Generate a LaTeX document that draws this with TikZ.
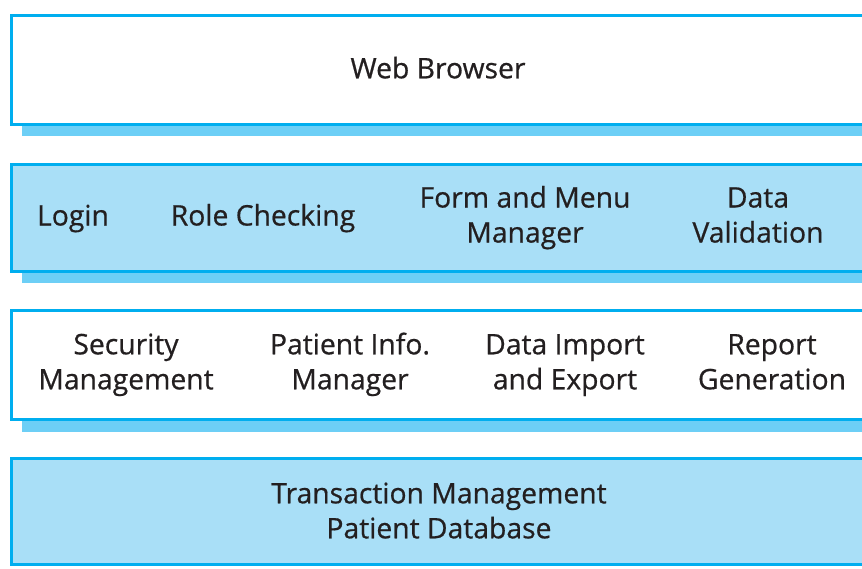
\documentclass[tikz,border=0pt]{standalone}
\usepackage{fontspec}
\setmainfont{Open Sans}
\newfontfamily\lblfont[FakeBold=0.6]{Open Sans}
\definecolor{edge}{HTML}{00AEEF}
\definecolor{lightfill}{HTML}{A9DFF7}
\definecolor{shade}{HTML}{6DCFF6}
\definecolor{ink}{HTML}{231F20}
\begin{document}
\begin{tikzpicture}[x=1pt,y=-1pt,
  layer/.style={draw=edge,line width=3pt},
  shadowbox/.style={fill=shade,draw=none},
  lbl/.style={text=ink,font=\lblfont\fontsize{28.3}{35}\selectfont,align=center,inner sep=0pt,anchor=base}]
\useasboundingbox (0,0) rectangle (862,568);
% shadows
\fill[shadowbox] (22,26) rectangle (900,136);
\fill[shadowbox] (22,175) rectangle (900,283);
\fill[shadowbox] (22,321) rectangle (900,432);
% layers
\draw[layer,fill=white] (11.5,15.5) rectangle (890,124.5);
\draw[layer,fill=lightfill] (11.5,164.5) rectangle (890,271.5);
\draw[layer,fill=white] (11.5,310.5) rectangle (890,419.5);
\draw[layer,fill=lightfill] (11.5,458.5) rectangle (890,564.5);
% labels (anchored at last baseline)
\node[lbl] (browser) at (438,78.3) {Web Browser};
\node[lbl] (login) at (73,225.5) {Login};
\node[lbl] (role) at (263,225.5) {Role Checking};
\node[lbl] (form) at (525,242.5) {Form and Menu\\Manager};
\node[lbl] (valid) at (758,242.5) {Data\\Validation};
\node[lbl] (security) at (126,389.3) {Security\\Management};
\node[lbl] (patient) at (350,389.3) {Patient Info.\\Manager};
\node[lbl] (import) at (565,389.3) {Data Import\\and Export};
\node[lbl] (report) at (772,389.3) {Report\\Generation};
\node[lbl] (trans) at (439,538.3) {Transaction Management\\Patient Database};
\end{tikzpicture}
\end{document}
